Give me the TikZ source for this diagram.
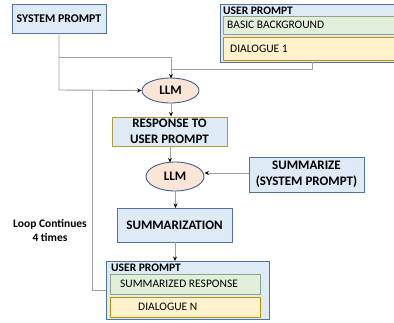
\documentclass[tikz,border=0pt]{standalone}
\usepackage{fontspec}
\setmainfont{Carlito}
\usetikzlibrary{shapes.geometric,arrows.meta,calc}
\definecolor{bfill}{HTML}{DEEAF6}
\definecolor{bdraw}{HTML}{4F74A0}
\definecolor{gfill}{HTML}{E2EFDA}
\definecolor{gdraw}{HTML}{8FA58A}
\definecolor{ofill}{HTML}{FFF2CC}
\definecolor{odraw}{HTML}{BF9000}
\definecolor{lfill}{HTML}{FBE5D6}
\definecolor{ldraw}{HTML}{3F5F8F}
\definecolor{rdraw}{HTML}{B09A3A}
\definecolor{conncol}{HTML}{A0A0A0}
\tikzset{
  bluebox/.style={draw=bdraw,fill=bfill,line width=0.9pt,inner sep=0pt,align=center,font=\bfseries\fontsize{13}{16}\selectfont},
  greenbox/.style={draw=gdraw,fill=gfill,line width=0.9pt},
  orangebox/.style={draw=odraw,fill=ofill,line width=0.9pt},
  llmnode/.style={ellipse,draw=ldraw,fill=lfill,line width=0.9pt,inner sep=0pt,font=\bfseries\fontsize{13}{16}\selectfont},
  smalltxt/.style={inner sep=0pt,font=\fontsize{11.5}{13}\selectfont},
  smallbold/.style={inner sep=0pt,font=\bfseries\fontsize{11.5}{13}\selectfont},
  conn/.style={draw=conncol,line width=0.9pt},
  arr/.style={conn,-{Stealth[length=4.5pt,width=4pt,black]}},
}
\begin{document}
\begin{tikzpicture}[x=1pt,y=-1pt]
\clip (0,0) rectangle (394,322);
\fill[white] (0,0) rectangle (394,322);

% system prompt
\node[bluebox,minimum width=94pt,minimum height=29pt,font=\bfseries\fontsize{11.8}{14}\selectfont] (sys) at (59,18.5) {SYSTEM PROMPT};

% user prompt 1
\node[bluebox,anchor=north west,minimum width=180pt,minimum height=58pt] (up1) at (220,4) {};
\node[smallbold,anchor=north west] (up1l) at (223,6.5) {USER PROMPT};
\node[greenbox,anchor=north west,minimum width=180pt,minimum height=18pt] (bg) at (223,16) {};
\node[smalltxt,anchor=west] (bgt) at (227,25) {BASIC BACKGROUND};
\node[orangebox,anchor=north west,minimum width=180pt,minimum height=23pt] (d1) at (223,37) {};
\node[smalltxt,anchor=west] (d1t) at (230,48.5) {DIALOGUE 1};

% LLM 1
\node[llmnode,minimum width=57pt,minimum height=25pt] (llm1) at (170.5,90.5) {LLM};

% response
\node[bluebox,draw=rdraw,minimum width=115pt,minimum height=29pt] (resp) at (169.5,131.5) {RESPONSE TO\\USER PROMPT};

% LLM 2
\node[llmnode,minimum width=58pt,minimum height=29pt] (llm2) at (175,176.5) {LLM};

% summarize
\node[bluebox,minimum width=115pt,minimum height=35pt] (summ) at (306.5,174.5) {SUMMARIZE\\(SYSTEM PROMPT)};

% summarization
\node[bluebox,minimum width=115pt,minimum height=34pt] (sumn) at (174.5,225) {SUMMARIZATION};

% user prompt 2
\node[bluebox,anchor=north west,minimum width=163pt,minimum height=58pt] (up2) at (106,261) {};
\node[smallbold,anchor=north west] (up2l) at (111,264) {USER PROMPT};
\node[greenbox,anchor=north west,minimum width=150pt,minimum height=20pt] (sr) at (110,274) {};
\node[smalltxt,anchor=west] (srt) at (120,284) {SUMMARIZED RESPONSE};
\node[orangebox,anchor=north west,minimum width=150pt,minimum height=20pt] (dn) at (110,297) {};
\node[smalltxt,anchor=west] (dnt) at (138,307) {DIALOGUE N};

% loop label
\node[smallbold,align=center,font=\bfseries\fontsize{11.5}{13.5}\selectfont] (loop) at (50,230.5) {Loop Continues\\4 times};

% coordinates
\coordinate (j1) at (sys.south |- 0,90);
\coordinate (j2) at (sys.south |- 0,57);
\coordinate (j3) at (171,57);
\coordinate (llm1t) at (171,78.5);
\coordinate (u1b) at (312,62);
\coordinate (u1c) at (312,69);
\coordinate (u1d) at (171,69);
\coordinate (lp1) at (92,290);
\coordinate (lp2) at (92,90);
\coordinate (up2w) at (up2.west |- 0,290);
\coordinate (l1b) at (171,103);
\coordinate (respb) at (170,146);
\coordinate (l2t) at (170,162.5);
\coordinate (l2b) at (175.5,191);
\coordinate (snt) at (175.5,208);
\coordinate (snb) at (175,242);
\coordinate (u2t) at (175,261);
\coordinate (smw) at (summ.west |- 0,173);
\coordinate (l2e) at (llm2.east |- 0,173);

% connectors
\draw[arr] (sys.south) -- (j1) -- (llm1.west);
\draw[arr] (j2) -- (j3) -- (llm1t);
\draw[conn] (u1b) -- (u1c) -- (u1d);
\draw[conn] (up2w) -- (lp1) -- (lp2);
\draw[arr] (l1b) -- (resp.north -| l1b);
\draw[arr] (respb) -- (l2t);
\draw[arr] (l2b) -- (snt);
\draw[arr] (snb) -- (u2t);
\draw[arr] (smw) -- (l2e);
\end{tikzpicture}
\end{document}
